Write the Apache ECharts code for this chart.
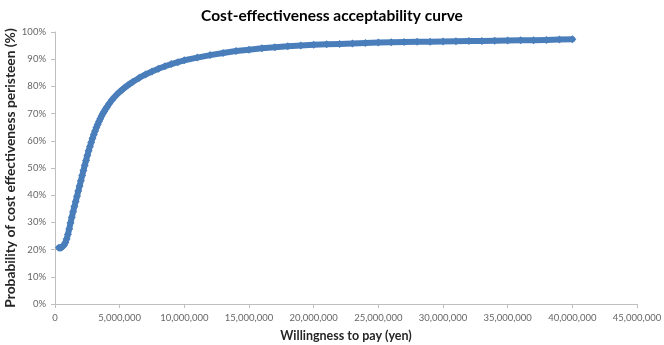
<!DOCTYPE html>
<html>
<head>
<meta charset="utf-8">
<script src="https://cdn.jsdelivr.net/npm/echarts@6/dist/echarts.min.js"></script>
<style>
  html, body { margin: 0; padding: 0; background: #fff; }
  #chart { width: 664px; height: 345px; }
</style>
</head>
<body>
<div id="chart"></div>
<script>
// Willingness to pay (yen)
var wtp = [
  300000, 400000, 500000, 600000, 700000, 800000, 900000,
  1000000, 1100000, 1200000, 1300000, 1400000, 1500000, 1600000, 1700000, 1800000, 1900000,
  2000000, 2100000, 2200000, 2300000, 2400000, 2500000, 2600000, 2700000, 2800000, 2900000,
  3000000, 3100000, 3200000, 3300000, 3400000, 3500000, 3600000, 3700000, 3800000, 3900000,
  4000000, 4200000, 4400000, 4600000, 4800000, 5000000, 5200000, 5400000, 5600000, 5800000,
  6000000, 6500000, 7000000, 7500000, 8000000, 8500000, 9000000, 9500000, 10000000,
  11000000, 12000000, 13000000, 14000000, 15000000, 16000000, 17000000, 18000000, 19000000, 20000000,
  21000000, 22000000, 23000000, 24000000, 25000000, 26000000, 27000000, 28000000, 29000000, 30000000,
  31000000, 32000000, 33000000, 34000000, 35000000, 36000000, 37000000, 38000000, 39000000, 40000000
];

// Probability that peristeen is cost-effective (%)
var probability = [
  20.7, 20.7, 20.8, 21.1, 21.7, 22.6, 23.9,
  25.6, 27.6, 29.8, 31.9, 33.9, 35.8, 37.7, 39.6, 41.5, 43.4,
  45.3, 47.2, 49.1, 51.0, 52.8, 54.6, 56.3, 57.9, 59.4, 60.9,
  62.3, 63.6, 64.9, 66.0, 67.1, 68.1, 69.1, 70.0, 70.8, 71.6,
  72.3, 73.7, 75.0, 76.1, 77.1, 78.0, 78.8, 79.6, 80.3, 81.0,
  81.6, 83.1, 84.4, 85.5, 86.5, 87.4, 88.2, 88.9, 89.6,
  90.6, 91.5, 92.3, 93.0, 93.5, 94.0, 94.4, 94.8, 95.0, 95.3,
  95.5, 95.6, 95.8, 96.0, 96.1, 96.2, 96.3, 96.4, 96.4, 96.5,
  96.6, 96.7, 96.7, 96.8, 96.9, 97.0, 97.0, 97.1, 97.2, 97.3
];

var xTicks = { min: 0, max: 45000000, interval: 5000000 };
var yTicks = { min: 0, max: 100, interval: 10 };

var points = wtp.map(function (w, i) { return [w, probability[i]]; });

var FONT = 'Lato, "Open Sans", sans-serif';
var axisGray = '#bfbfbf';
var labelGray = '#666666';

var chart = echarts.init(document.getElementById('chart'), null, { renderer: 'canvas' });
chart.setOption({
  animation: false,
  backgroundColor: '#ffffff',
  title: {
    text: 'Cost-effectiveness acceptability curve',
    left: 'center',
    top: 3,
    textStyle: { fontFamily: FONT, fontSize: 15.5, fontWeight: 'bold', color: '#000000' }
  },
  grid: { left: 55, right: 27, top: 32, bottom: 41, containLabel: false, outerBoundsMode: 'none' },
  xAxis: {
    type: 'value',
    min: xTicks.min, max: xTicks.max, interval: xTicks.interval,
    name: 'Willingness to pay (yen)',
    nameLocation: 'middle',
    nameGap: 25,
    nameMoveOverlap: false,
    nameTextStyle: { fontFamily: FONT, fontSize: 12.5, fontWeight: 'bold', color: '#262626' },
    axisLine: { lineStyle: { color: axisGray, width: 1 } },
    axisTick: { show: true, length: 4, lineStyle: { color: axisGray } },
    splitLine: { show: false },
    axisLabel: {
      fontFamily: FONT, fontSize: 9.5, color: labelGray, margin: 9,
      formatter: function (v) { return v.toLocaleString('en-US'); }
    }
  },
  yAxis: {
    type: 'value',
    min: yTicks.min, max: yTicks.max, interval: yTicks.interval,
    name: 'Probability of cost effectiveness peristeen (%)',
    nameLocation: 'middle',
    nameGap: 37,
    nameMoveOverlap: false,
    nameTextStyle: { fontFamily: FONT, fontSize: 13.8, fontWeight: 'bold', color: '#262626' },
    axisLine: { show: true, lineStyle: { color: axisGray, width: 1 } },
    axisTick: { show: true, length: 4, lineStyle: { color: axisGray } },
    splitLine: { show: false },
    axisLabel: { fontFamily: FONT, fontSize: 9.5, color: labelGray, margin: 9, formatter: '{value}%' }
  },
  series: [{
    type: 'line',
    data: points,
    symbol: 'diamond',
    symbolSize: 8,
    showAllSymbol: true,
    itemStyle: { color: '#4a7ebb' },
    lineStyle: { color: '#4a7ebb', width: 6, cap: 'round', join: 'round' },
    z: 3
  }]
});
</script>
</body>
</html>
